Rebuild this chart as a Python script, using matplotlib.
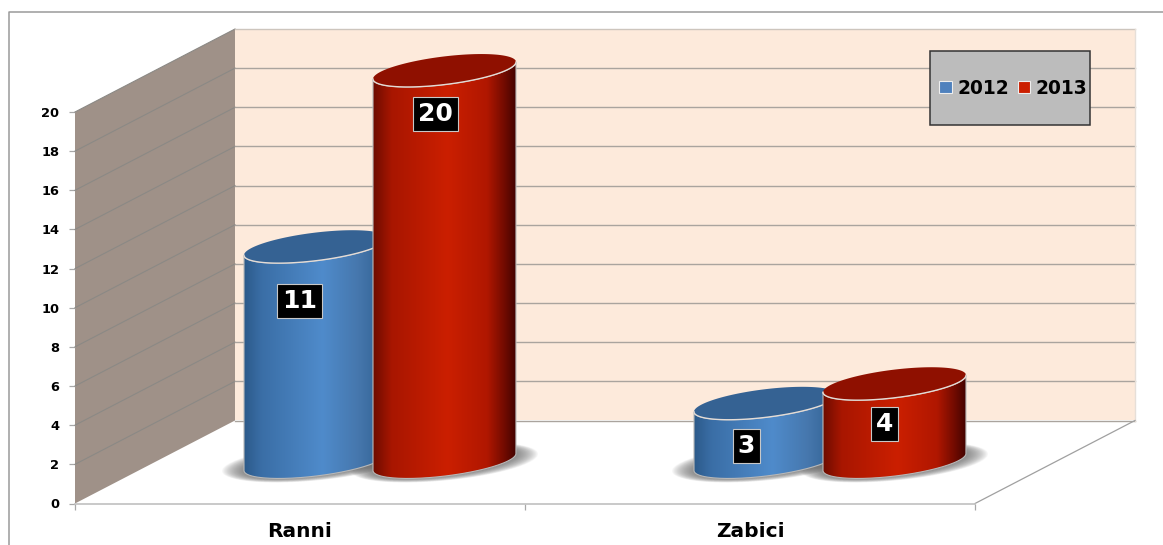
import numpy as np
import matplotlib
matplotlib.use("Agg")
import matplotlib.pyplot as plt
from matplotlib.colors import LinearSegmentedColormap
from matplotlib.patches import PathPatch, Polygon, Rectangle
from matplotlib.path import Path
from matplotlib.lines import Line2D

# Data
categories = ["Ranni", "Zabici"]
series_names = ["2012", "2013"]
values_2012 = [11, 3]
values_2013 = [20, 4]
y_ticks = list(range(0, 22, 2))

plt.rcParams.update({
    "font.family": "DejaVu Sans",
    "font.weight": "bold",
})

W, H = 1163, 545
AX_L, AX_R, AX_T, AX_B = 75, 975, 112, 503.5
PX_X = (AX_R - AX_L) / 2          # px per category
PX_Y = (AX_B - AX_T) / 20         # px per value unit

# 3d look: how far the back wall sits from the front plane
DEPTH_X = 160 / PX_X
DEPTH_Y = 83 / PX_Y
BAR_A = 71.5 / PX_X
BAR_B = 14.1 / PX_Y
BAR_TILT = 8.5 / PX_Y
BAR_SHIFT = 64.5 / PX_X

blue_cmap = LinearSegmentedColormap.from_list("b", [(0, "#2c5a8a"), (0.12, "#3a6ea6"), (0.55, "#4f8bcb"),
                                                    (0.8, "#4677ad"), (1, "#2f5f8f")])
red_cmap = LinearSegmentedColormap.from_list("r", [(0, "#6e0c00"), (0.13, "#a81600"), (0.52, "#cb1f00"),
                                                   (0.8, "#b01700"), (0.93, "#6d0a00"), (1, "#440300")])
TOP_COLORS = {"2012": "#356293", "2013": "#8f1000"}
LEGEND_COLORS = {"2012": "#4f81bd", "2013": "#cb1f00"}
# label boxes do not sit on the bar centre in the original (px)
LABEL_NUDGE = {"2012": [(-16, 54.5), (-19, 42.5)], "2013": [(-9, 43.5), (-10, 40.5)]}


def ellipse_pts(cx, cy, t, a=BAR_A, b=BAR_B, tilt=BAR_TILT):
    return cx + a * np.cos(t), cy + b * np.sin(t) + tilt * np.cos(t)


def draw_cylinder(ax, fig, cx, value, cmap, top_color, z):
    base = DEPTH_Y / 2
    # soft shadow on the floor
    for k in range(22):
        grow = (22 - k * 1.0) / PX_X
        sx, sy = ellipse_pts(cx, base - 0.5 / PX_Y, np.linspace(0, 2 * np.pi, 80), a=BAR_A + grow,
                             b=BAR_B + (4 - k * 0.2) / PX_Y)
        ax.add_patch(Polygon(np.c_[sx, sy], closed=True, fc="#666666", ec="none", alpha=0.05,
                             zorder=3, clip_on=False))

    t_front = np.linspace(np.pi, 2 * np.pi, 80)
    tx, ty = ellipse_pts(cx, base + value, t_front)
    bx, by = ellipse_pts(cx, base, t_front[::-1])
    body = np.r_[np.c_[tx, ty], np.c_[bx, by], [[tx[0], ty[0]]]]
    clip = PathPatch(Path(body), fc="none", ec="#b8b8b8", lw=0.8, zorder=z + 0.1, clip_on=False)
    ax.add_patch(clip)
    im = ax.imshow(np.linspace(0, 1, 256)[None, :], cmap=cmap, aspect="auto", zorder=z,
                   extent=(cx - BAR_A, cx + BAR_A, 0, base + value + 2))
    im.set_clip_path(clip)
    im.set_clip_box(fig.bbox)

    # top face with pale front rim
    ex, ey = ellipse_pts(cx, base + value, np.linspace(0, 2 * np.pi, 160))
    ax.add_patch(Polygon(np.c_[ex, ey], closed=True, fc=top_color, ec="none", zorder=z + 0.2, clip_on=False))
    ax.plot(tx, ty, color="#e4dcd6", lw=1.0, zorder=z + 0.3, clip_on=False)


def generate_chart():
    fig = plt.figure(figsize=(W / 100, H / 100), dpi=100, facecolor="white")
    ax = fig.add_axes([AX_L / W, 1 - AX_B / H, (AX_R - AX_L) / W, (AX_B - AX_T) / H])
    ax.patch.set_visible(False)

    top = y_ticks[-1]

    # Walls
    ax.add_patch(Polygon([(0, 0), (DEPTH_X, DEPTH_Y), (DEPTH_X, top + DEPTH_Y), (0, top)],
                         closed=True, fc="#9f9188", ec="none", zorder=1, clip_on=False))
    ax.add_patch(Rectangle((DEPTH_X, DEPTH_Y), 2, top, fc="#fdeadb", ec="none", zorder=1, clip_on=False))

    # Gridlines on the side and back wall
    for v in y_ticks:
        if v > 0:
            ax.plot([0, DEPTH_X], [v, v + DEPTH_Y], color="#8b8985", lw=0.8, zorder=2, clip_on=False)
        grid_col = "#cdc5bd" if v == top else "#aaa49e"
        ax.plot([DEPTH_X, 2 + DEPTH_X], [v + DEPTH_Y] * 2, color=grid_col, lw=1.0, zorder=2, clip_on=False)
    ax.plot([2 + DEPTH_X] * 2, [DEPTH_Y, top + DEPTH_Y], color="#e6dfd8", lw=1, zorder=2, clip_on=False)

    # Floor right edge
    ax.plot([2, 2 + DEPTH_X], [0, DEPTH_Y], color="#a0a0a0", lw=0.9, zorder=2, clip_on=False)

    # Cylinders
    for i, cat in enumerate(categories):
        centre = i + 0.5 + DEPTH_X / 2
        draw_cylinder(ax, fig, centre - BAR_SHIFT, values_2012[i], blue_cmap, TOP_COLORS["2012"], 5 + i)
        draw_cylinder(ax, fig, centre + BAR_SHIFT, values_2013[i], red_cmap, TOP_COLORS["2013"], 5.5 + i)

    # Value labels
    for name, vals, shift in (("2012", values_2012, -BAR_SHIFT), ("2013", values_2013, BAR_SHIFT)):
        for i, v in enumerate(vals):
            dx, dy = LABEL_NUDGE[name][i]
            ax.text(i + 0.5 + DEPTH_X / 2 + shift + dx / PX_X, DEPTH_Y / 2 + v - dy / PX_Y, str(v),
                    color="white", fontsize=18, fontweight="bold", ha="center", va="center", zorder=9,
                    bbox=dict(boxstyle="square,pad=0.2", fc="black", ec="#c8c8c8", lw=0.8))

    # Axes
    ax.set_xlim(0, 2)
    ax.set_ylim(0, top)
    ax.set_yticks(y_ticks)
    ax.set_xticks([0, 1, 2])
    ax.set_xticklabels([])
    ax.set_xticks([0.5, 1.5], minor=True)
    ax.set_xticklabels(categories, minor=True, fontsize=14.5, fontweight="bold")
    ax.tick_params(axis="y", labelsize=9.4, length=4.3, width=0.9, color="#a8a8a8", pad=7)
    ax.tick_params(axis="x", which="major", length=4.5, width=0.9, color="#a8a8a8")
    ax.tick_params(axis="x", which="minor", length=0, pad=13)
    for s in ("top", "right", "left"):
        ax.spines[s].set_visible(False)
    ax.spines["bottom"].set_color("#c0c0c0")
    ax.spines["bottom"].set_linewidth(1.2)
    ax.spines["bottom"].set_zorder(2)

    # Legend box with the legend on top
    fig.add_artist(Rectangle((929.5 / W, 1 - 125 / H), 160.5 / W, 74 / H, transform=fig.transFigure,
                             fc="#bcbcbc", ec="#333333", lw=1.1, zorder=10))
    handles = [Rectangle((0, 0), 1, 1, fc=LEGEND_COLORS[n], ec="#eeeeee", lw=0.8) for n in series_names]
    leg = fig.legend(handles, series_names, ncols=2, frameon=False, loc="center",
                     bbox_to_anchor=(1013.5 / W, 1 - 88 / H), fontsize=13.4, handlelength=0.68,
                     handleheight=0.55, handletextpad=0.3, columnspacing=0.44)
    leg.set_zorder(11)

    # Chart frame, cut by the image edge at right and bottom
    fig.add_artist(Line2D([8.5 / W, 8.5 / W, 1], [0, 1 - 11.5 / H, 1 - 11.5 / H],
                          color="#9a9a9a", lw=1.1, transform=fig.transFigure))

    fig.savefig("out.png", dpi=100)
    plt.close(fig)


if __name__ == "__main__":
    generate_chart()
